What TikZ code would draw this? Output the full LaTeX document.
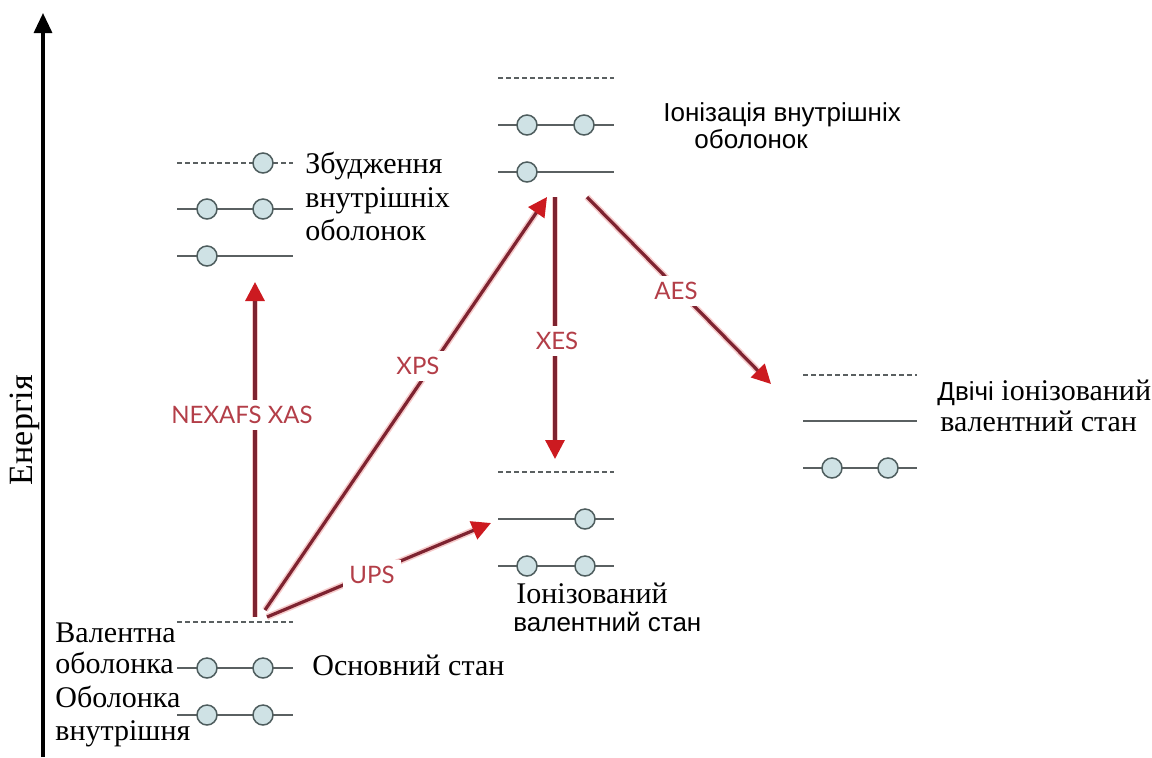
\documentclass[tikz,border=0pt]{standalone}
\usepackage{fontspec}
\setmainfont{Liberation Serif}
\setsansfont{Liberation Sans}
\newfontfamily\latofont{Lato}
\usetikzlibrary{arrows.meta}
\definecolor{circfill}{HTML}{CFE2E5}
\definecolor{circdraw}{HTML}{4E5D5E}
\definecolor{lvlc}{HTML}{5A6061}
\definecolor{arrline}{HTML}{7E2330}
\definecolor{arrhead}{HTML}{CC1A20}
\definecolor{arrhalo}{HTML}{F6CBCB}
\definecolor{lblc}{HTML}{B33E48}
\begin{document}
\begin{tikzpicture}[x=0.5pt,y=-0.5pt,
  lvl/.style={draw=lvlc, line width=1pt},
  lvld/.style={draw=lvlc, line width=0.6pt, dash pattern=on 2.4pt off 1.6pt},
  el/.style={circle, draw=circdraw, fill=circfill, line width=0.75pt, minimum size=10pt, inner sep=0pt},
  halo/.style={draw=arrhalo, line width=3.2pt, shorten >=7pt},
  tr/.style={draw=arrline, line width=1.6pt, -{Triangle[length=9.5pt,width=9.5pt,color=arrhead]}},
  trl/.style={fill=white, text=lblc, font=\latofont\fontsize{12}{14}\selectfont, inner sep=3pt},
  ser/.style={font=\fontsize{15}{16.5}\selectfont, inner sep=0pt, anchor=base west},
  san/.style={font=\sffamily\fontsize{13}{15}\selectfont, inner sep=0pt, anchor=base west},
  axisarrow/.style={draw=black, line width=1.6pt, -{Triangle[length=10pt,width=9pt]}}
]
\useasboundingbox (0,0) rectangle (1152,757);

% energy axis
\coordinate (axb) at (43,757);
\coordinate (axt) at (43,13);
\draw[axisarrow] (axb) -- (axt);
\node[rotate=90, font=\fontsize{17}{19}\selectfont, inner sep=0pt] (energy) at (25,430) {Енергія};

% ---------- excitation of inner shells (top left)
\draw[lvld] (177,163) -- (293,163);
\draw[lvl] (177,209) -- (293,209);
\draw[lvl] (177,256) -- (293,256);
\node[el] (ex1b) at (263,163) {};
\node[el] (ex2a) at (207,209) {};
\node[el] (ex2b) at (263,209) {};
\node[el] (ex3a) at (207,256) {};
\node[ser] (extx1) at (305,173) {Збудження};
\node[ser] (extx2) at (305,207) {внутрішніх};
\node[ser] (extx3) at (305,240) {оболонок};

% ---------- inner-shell ionisation (top middle)
\draw[lvld] (498,78) -- (614,78);
\draw[lvl] (498,125) -- (614,125);
\draw[lvl] (498,172) -- (614,172);
\node[el] (io2a) at (527,125) {};
\node[el] (io2b) at (584,125) {};
\node[el] (io3a) at (527,172) {};
\node[san] (iotx1) at (663,121) {Іонізація внутрішніх};
\node[san] (iotx2) at (694,148) {оболонок};

% ---------- ionised valence state (middle)
\draw[lvld] (498,472) -- (614,472);
\draw[lvl] (498,519) -- (614,519);
\draw[lvl] (498,566) -- (614,566);
\node[el] (iv2b) at (585,519) {};
\node[el] (iv3a) at (527,566) {};
\node[el] (iv3b) at (585,566) {};
\node[ser] (ivtx1) at (516,603) {Іонізований};
\node[san] (ivtx2) at (513,631) {валентний стан};

% ---------- doubly ionised valence state (right)
\draw[lvld] (803,375) -- (917,375);
\draw[lvl] (803,421) -- (917,421);
\draw[lvl] (803,468) -- (917,468);
\node[el] (dv3a) at (832,468) {};
\node[el] (dv3b) at (888,468) {};
\node[ser] (dvtx1) at (937,400) {{\sffamily\fontsize{13}{15}\selectfont Двічі} іонізований};
\node[ser] (dvtx2) at (940,431) {валентний стан};

% ---------- ground state (bottom left)
\draw[lvld] (177,622) -- (293,622);
\draw[lvl] (177,668) -- (293,668);
\draw[lvl] (177,715) -- (293,715);
\node[el] (gs2a) at (207,668) {};
\node[el] (gs2b) at (263,668) {};
\node[el] (gs3a) at (207,715) {};
\node[el] (gs3b) at (263,715) {};
\node[ser] (gstx1) at (55,642) {Валентна};
\node[ser] (gstx2) at (55,673) {оболонка};
\node[ser] (gstx3) at (55,707) {Оболонка};
\node[ser] (gstx4) at (55,740) {внутрішня};
\node[ser] (gstx5) at (312,675) {Основний стан};

% ---------- transitions
\coordinate (nexS) at (255,617);
\coordinate (nexE) at (255,282);
\coordinate (xpsS) at (265,610);
\coordinate (xpsE) at (547,197);
\coordinate (upsS) at (267,617);
\coordinate (upsE) at (491,523);
\coordinate (xesS) at (555,197);
\coordinate (xesE) at (555,459);
\coordinate (aesS) at (587,197);
\coordinate (aesE) at (771,384);

\foreach \a/\b in {nexS/nexE, xpsS/xpsE, upsS/upsE, xesS/xesE, aesS/aesE}{
  \draw[halo] (\a) -- (\b);
  \draw[tr] (\a) -- (\b);
}

\node[trl] (lnex) at (242,415) {NEXAFS XAS};
\node[trl] (lxps) at (418,366) {XPS};
\node[trl] (lups) at (372,575) {UPS};
\node[trl] (lxes) at (557,341) {XES};
\node[trl] (laes) at (676,291) {AES};
\end{tikzpicture}
\end{document}
